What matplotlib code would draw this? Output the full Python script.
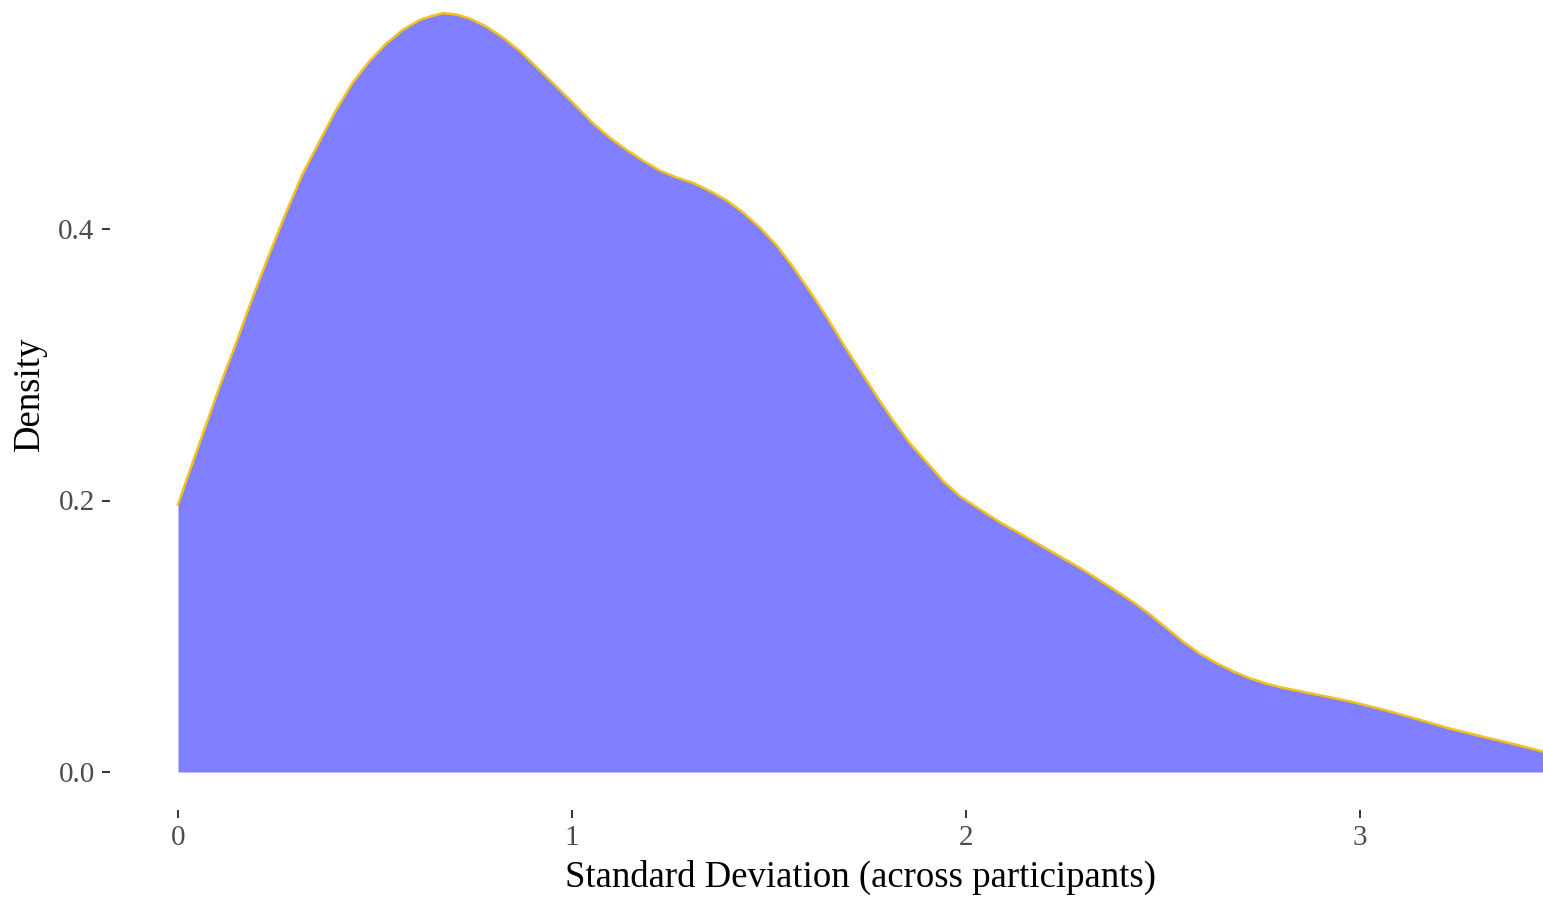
import numpy as np
import matplotlib
matplotlib.use('Agg')
import matplotlib.pyplot as plt

# Density curve (x = SD, y = density)
sd_x = [0.000, 0.030, 0.063, 0.107, 0.150, 0.190, 0.234, 0.277, 0.317, 0.360,
        0.402, 0.444, 0.487, 0.530, 0.572, 0.614, 0.645, 0.673, 0.707, 0.741,
        0.783, 0.825, 0.868, 0.911, 0.953, 0.995, 1.053, 1.097, 1.140, 1.182,
        1.223, 1.265, 1.307, 1.350, 1.393, 1.435, 1.477, 1.519, 1.561, 1.604,
        1.647, 1.689, 1.731, 1.773, 1.815, 1.858, 1.901, 1.943, 1.985, 2.043,
        2.086, 2.129, 2.171, 2.213, 2.255, 2.297, 2.340, 2.383, 2.425, 2.467,
        2.509, 2.551, 2.594, 2.637, 2.679, 2.721, 2.763, 2.805, 2.891, 2.975,
        3.058, 3.145, 3.228, 3.312, 3.398, 3.465]
density_y = [0.197, 0.222, 0.249, 0.285, 0.318, 0.350, 0.383, 0.414, 0.441, 0.465,
             0.488, 0.508, 0.524, 0.537, 0.547, 0.554, 0.557, 0.559, 0.558, 0.555,
             0.549, 0.541, 0.531, 0.519, 0.507, 0.495, 0.478, 0.467, 0.458, 0.450,
             0.443, 0.438, 0.434, 0.428, 0.421, 0.412, 0.401, 0.388, 0.372, 0.354,
             0.335, 0.315, 0.296, 0.277, 0.259, 0.242, 0.228, 0.214, 0.203, 0.192,
             0.184, 0.177, 0.170, 0.163, 0.156, 0.149, 0.141, 0.133, 0.125, 0.116,
             0.106, 0.096, 0.087, 0.080, 0.074, 0.069, 0.065, 0.062, 0.057, 0.052,
             0.046, 0.039, 0.032, 0.026, 0.020, 0.015]

x_ticks = [0, 1, 2, 3]
y_ticks = [0.0, 0.2, 0.4]
y_tick_labels = ['0.0', '0.2', '0.4']

plt.rcParams['font.family'] = ['Liberation Serif', 'DejaVu Serif']

W, H = 1543, 898
fig = plt.figure(figsize=(W / 100, H / 100), dpi=100)

# panel in pixels (extends past the right and top edge, like the cropped original)
left, right, bottom, top = 110, 1612, 810, -25
ax = fig.add_axes([left / W, (H - bottom) / H, (right - left) / W, (bottom - top) / H])

px_per_x = 394.0
px_per_y = 1357.5
x0_px, y0_px = 178, 772
ax.set_xlim(-(x0_px - left) / px_per_x, (right - x0_px) / px_per_x)
ax.set_ylim(-(bottom - y0_px) / px_per_y, (y0_px - top) / px_per_y)

ax.fill_between(sd_x, 0, density_y, color='#7F7FFF', linewidth=0)
ax.plot(sd_x, density_y, color='#F2C21B', linewidth=1.8, solid_joinstyle='round')

for s in ax.spines.values():
    s.set_visible(False)

ax.set_xticks(x_ticks)
ax.set_xticklabels([str(t) for t in x_ticks])
ax.set_yticks(y_ticks)
ax.set_yticklabels(y_tick_labels)
ax.tick_params(axis='both', direction='out', length=6, width=1.4, color='#333333',
               labelcolor='#4D4D4D', labelsize=21, pad=5)

ax.set_xlabel('Standard Deviation (across participants)', fontsize=26.5, color='black', labelpad=6)
ax.set_ylabel('Density', fontsize=26.5, color='black')
ax.yaxis.set_label_coords(-(left - 47) / (right - left), (bottom - 394) / (bottom - top))

plt.savefig('out.png', dpi=100, facecolor='white')
